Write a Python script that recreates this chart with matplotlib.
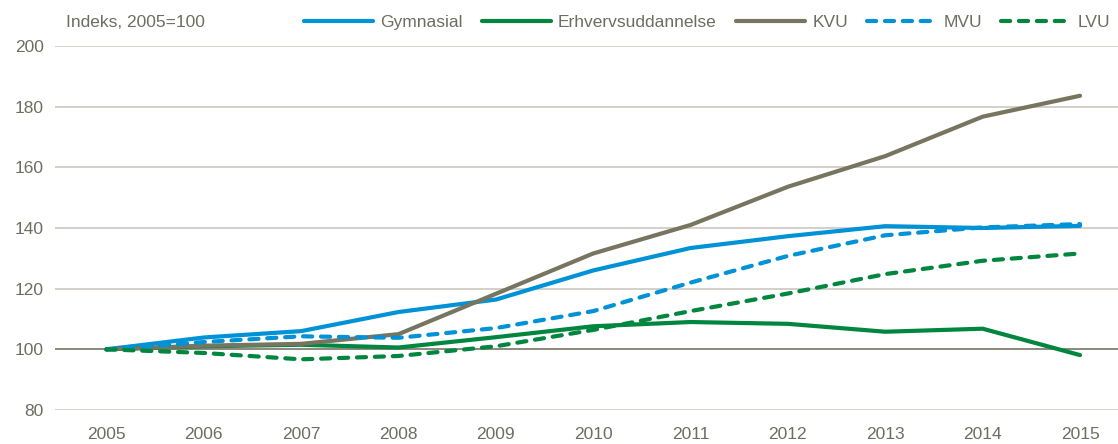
import matplotlib
matplotlib.use("Agg")
import matplotlib.pyplot as plt

# Data (index, 2005=100)
years = [2005, 2006, 2007, 2008, 2009, 2010, 2011, 2012, 2013, 2014, 2015]
gymnasial = [100, 103.9, 106.0, 112.3, 116.4, 126.0, 133.4, 137.3, 140.6, 140.0, 140.7]
erhverv = [100, 101.0, 101.5, 100.6, 104.0, 107.6, 109.0, 108.4, 105.8, 106.8, 98.1]
kvu = [100, 101.2, 101.8, 105.0, 118.3, 131.6, 141.0, 153.6, 163.7, 176.7, 183.6]
mvu = [100, 102.4, 104.3, 103.8, 107.0, 112.6, 122.0, 130.8, 137.6, 140.2, 141.3]
lvu = [100, 98.8, 96.7, 97.8, 101.0, 106.4, 112.6, 118.4, 124.8, 129.2, 131.6]

yticks = [80, 100, 120, 140, 160, 180, 200]

blue = "#0092d6"
green = "#00863e"
grey = "#77745f"
txt = "#6e6d62"

plt.rcParams["font.family"] = ["Liberation Sans", "DejaVu Sans"]

fig = plt.figure(figsize=(11.18, 4.44), dpi=100)
ax = fig.add_axes([0.049, 0.0766, 0.951, 0.8198])

for y in yticks:
    if y == 100:
        ax.axhline(y, color="#8c897c", lw=1.4, zorder=1)
    else:
        ax.axhline(y, color="#cfcdc4", lw=1.3, zorder=1)

dash = (0, (2.2, 2.1))
ax.plot(years, gymnasial, color=blue, lw=3.0, label="Gymnasial", solid_capstyle="round", zorder=3)
ax.plot(years, erhverv, color=green, lw=3.0, label="Erhvervsuddannelse", solid_capstyle="round", zorder=3)
ax.plot(years, kvu, color=grey, lw=3.0, label="KVU", solid_capstyle="round", zorder=3)
ax.plot(years, mvu, color=blue, lw=3.0, ls=dash, label="MVU", dash_capstyle="round", zorder=3)
ax.plot(years, lvu, color=green, lw=3.0, ls=dash, label="LVU", dash_capstyle="round", zorder=3)

ax.set_xlim(2004.47, 2015.39)
ax.set_ylim(80, 200)
ax.set_xticks(years)
ax.set_yticks(yticks)
ax.tick_params(length=0, labelsize=12.5, colors=txt)
ax.tick_params(axis="x", pad=12)
ax.tick_params(axis="y", pad=8)
for s in ax.spines.values():
    s.set_visible(False)

fig.text(0.059, 0.95, "Indeks, 2005=100", fontsize=12.5, color=txt, va="center")

leg = fig.legend(loc="center right", bbox_to_anchor=(0.993, 0.95), ncol=5, frameon=False,
                 fontsize=12.5, handlelength=4.0, columnspacing=1.1, handletextpad=0.4,
                 borderaxespad=0, borderpad=0)
for t in leg.get_texts():
    t.set_color(txt)

fig.savefig("out.png", dpi=100)
